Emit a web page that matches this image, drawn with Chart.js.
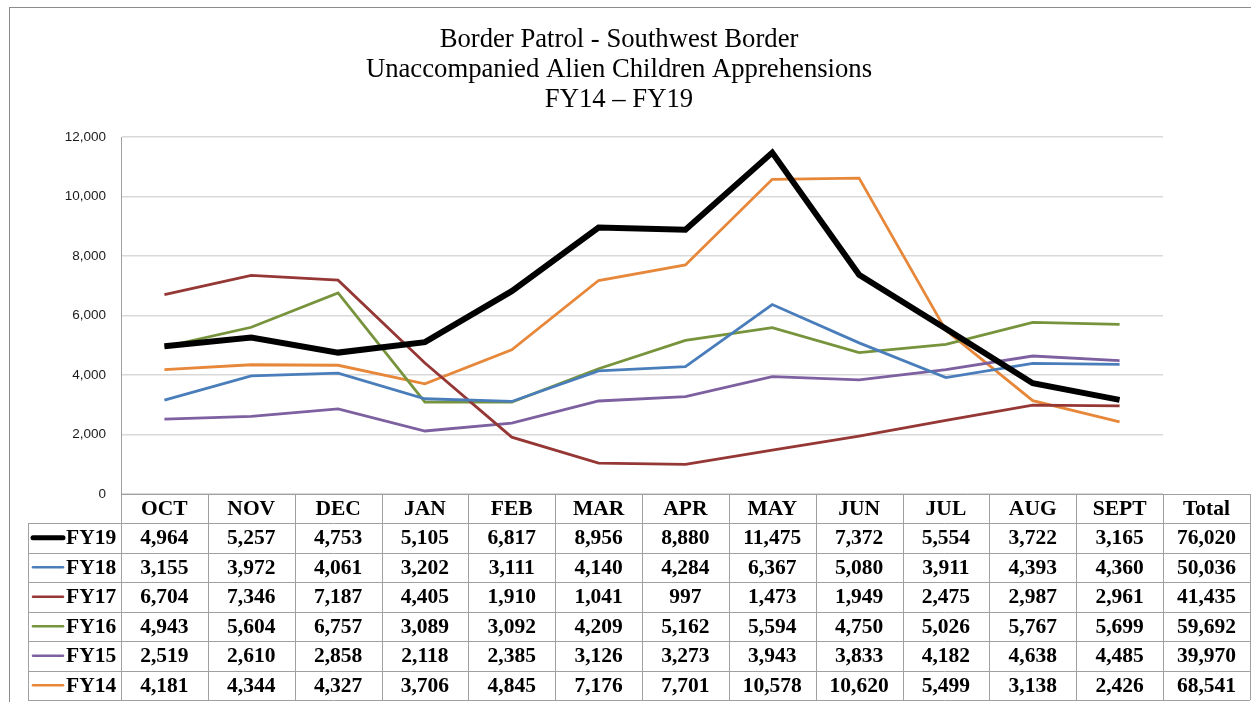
<!DOCTYPE html>
<html>
<head>
<meta charset="utf-8">
<script src="https://cdn.jsdelivr.net/npm/chart.js@4"></script>
<style>
  html, body { margin: 0; padding: 0; background: #fff; }
  #wrap { width: 1251px; height: 702px; }
</style>
</head>
<body>
<div id="wrap"><canvas id="line" width="1251" height="702"></canvas></div>
<script>
// months across the table / x axis
var months = ['OCT', 'NOV', 'DEC', 'JAN', 'FEB', 'MAR', 'APR', 'MAY', 'JUN', 'JUL', 'AUG', 'SEPT'];

var fy19 = [4964, 5257, 4753, 5105, 6817, 8956, 8880, 11475, 7372, 5554, 3722, 3165];
var fy18 = [3155, 3972, 4061, 3202, 3111, 4140, 4284, 6367, 5080, 3911, 4393, 4360];
var fy17 = [6704, 7346, 7187, 4405, 1910, 1041, 997, 1473, 1949, 2475, 2987, 2961];
var fy16 = [4943, 5604, 6757, 3089, 3092, 4209, 5162, 5594, 4750, 5026, 5767, 5699];
var fy15 = [2519, 2610, 2858, 2118, 2385, 3126, 3273, 3943, 3833, 4182, 4638, 4485];
var fy14 = [4181, 4344, 4327, 3706, 4845, 7176, 7701, 10578, 10620, 5499, 3138, 2426];

var seriesNames = ['FY19', 'FY18', 'FY17', 'FY16', 'FY15', 'FY14'];
var totals = [76020, 50036, 41435, 59692, 39970, 68541];

var titleLines = ['Border Patrol - Southwest Border', 'Unaccompanied Alien Children Apprehensions', 'FY14 \u2013 FY19'];

var colors = ['#000000', '#4a7ebb', '#953735', '#77933c', '#7d60a0', '#e6873a'];
var widths = [6, 2.8, 2.8, 2.8, 2.8, 2.8];

var allSeries = [fy19, fy18, fy17, fy16, fy15, fy14];

var fmt = function (v) { return v.toLocaleString('en-US'); };

var datasets = allSeries.map(function (d, i) {
	return {
		label: seriesNames[i],
		data: d,
		borderColor: colors[i],
		backgroundColor: colors[i],
		borderWidth: widths[i],
		pointRadius: 0,
		tension: 0,
		borderJoinStyle: 'miter'
	};
});

// frame, title and data table under the plot
var tablePlugin = {
	id: 'tablePlugin',
	beforeDraw: function (chart) {
		var c = chart.ctx;
		c.save();
		c.fillStyle = '#fff';
		c.fillRect(0, 0, chart.width, chart.height);
		c.strokeStyle = '#8c8c8c';
		c.lineWidth = 1;
		c.strokeRect(9.5, 7.5, 1250, 710);
		c.restore();
	},
	afterDraw: function (chart) {
		var c = chart.ctx;
		var x = chart.scales.x;
		var area = chart.chartArea;
		var colW = (area.right - area.left) / months.length;
		var top = area.bottom;
		var headH = 29;
		var rowH = 29.5;
		var labelLeft = 28;
		var totalRight = 1250;

		c.save();
		// title
		c.fillStyle = '#000';
		c.font = '26.7px "Liberation Serif"';
		c.textAlign = 'center';
		c.textBaseline = 'alphabetic';
		titleLines.forEach(function (t, i) {
			c.fillText(t, 619, 47 + i * 30);
		});

		// grid of the table
		c.strokeStyle = '#a0a0a0';
		c.lineWidth = 1;
		c.beginPath();
		var bottom = top + headH + rowH * seriesNames.length;
		c.moveTo(area.left, Math.round(top) + 0.5);
		c.lineTo(totalRight, Math.round(top) + 0.5);
		for (var r = 0; r <= seriesNames.length; r++) {
			var yy = Math.round(top + headH + r * rowH) + 0.5;
			c.moveTo(labelLeft, yy);
			c.lineTo(totalRight, yy);
		}
		c.moveTo(labelLeft + 0.5, top + headH);
		c.lineTo(labelLeft + 0.5, bottom);
		for (var k = 0; k <= months.length; k++) {
			var xx = Math.round(area.left + k * colW) + 0.5;
			c.moveTo(xx, top);
			c.lineTo(xx, bottom);
		}
		c.moveTo(totalRight + 0.5, top);
		c.lineTo(totalRight + 0.5, bottom);
		c.stroke();

		// header
		c.fillStyle = '#000';
		c.font = 'bold 21.5px "Liberation Serif"';
		c.textAlign = 'center';
		c.textBaseline = 'middle';
		months.forEach(function (m, i) {
			c.fillText(m, x.getPixelForValue(i), top + headH / 2 + 1);
		});
		var totalX = (area.right + totalRight) / 2;
		c.fillText('Total', totalX, top + headH / 2 + 1);

		// rows
		allSeries.forEach(function (d, r) {
			var cy = top + headH + r * rowH + rowH / 2 + 1;
			c.textAlign = 'center';
			d.forEach(function (v, i) {
				c.fillText(fmt(v), x.getPixelForValue(i), cy);
			});
			c.fillText(fmt(totals[r]), totalX, cy);
			// legend key
			c.beginPath();
			c.strokeStyle = colors[r];
			c.lineWidth = r === 0 ? 5 : 2.5;
			c.lineCap = 'round';
			c.moveTo(33, cy - 1);
			c.lineTo(63, cy - 1);
			c.stroke();
			c.textAlign = 'left';
			c.fillText(seriesNames[r], 66, cy);
		});
		c.restore();
	}
};

var ctx = document.getElementById('line');

var line = new Chart(ctx, {
	type: 'line',
	data: {
		labels: months,
		datasets: datasets
	},
	options: {
		responsive: false,
		animation: false,
		layout: {
			padding: { top: 137, left: 0, right: 88, bottom: 208 }
		},
		scales: {
			x: {
				display: false,
				offset: true
			},
			y: {
				min: 0,
				max: 12000,
				afterFit: function (scale) { scale.width = 121; },
				ticks: {
					stepSize: 2000,
					padding: 15,
					color: '#1a1a1a',
					font: { family: '"Liberation Sans"', size: 13.5 },
					callback: function (v) { return fmt(v); }
				},
				grid: {
					color: '#d9d9d9',
					lineWidth: 1.5,
					drawTicks: false
				},
				border: { color: '#a0a0a0', width: 1 }
			}
		},
		plugins: {
			legend: { display: false },
			title: { display: false },
			tooltip: { enabled: false }
		}
	},
	plugins: [tablePlugin]
});
</script>
</body>
</html>
